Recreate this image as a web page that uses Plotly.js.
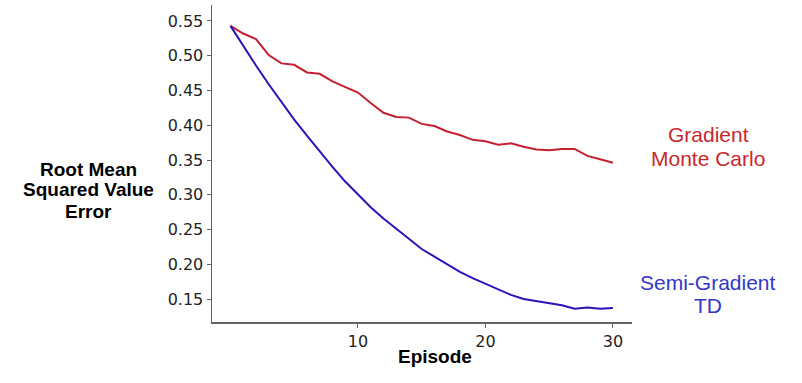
<!DOCTYPE html>
<html>
<head>
<meta charset="utf-8">
<script src="https://cdn.plot.ly/plotly-3.0.1.min.js"></script>
<style>html,body{margin:0;padding:0;background:#fff;}#chart{width:802px;height:383px;}</style>
</head>
<body>
<div id="chart"></div>
<script>
const episodes = [0,1,2,3,4,5,6,7,8,9,10,11,12,13,14,15,16,17,18,19,20,21,22,23,24,25,26,27,28,29,30];
const gradientMC = [0.543,0.532,0.524,0.501,0.489,0.487,0.476,0.474,0.463,0.455,0.447,0.432,0.418,0.412,0.411,0.402,0.399,0.391,0.386,0.379,0.377,0.372,0.374,0.369,0.365,0.364,0.366,0.366,0.356,0.351,0.346];
const semiGradientTD = [0.543,0.514,0.486,0.459,0.433,0.408,0.385,0.362,0.340,0.319,0.300,0.282,0.266,0.251,0.236,0.222,0.211,0.200,0.189,0.180,0.172,0.165,0.156,0.150,0.147,0.144,0.141,0.136,0.138,0.136,0.137];
const yTicks = [0.15,0.20,0.25,0.30,0.35,0.40,0.45,0.50,0.55];
const xTicks = [10,20,30];
const yTitleLines = ['Root Mean', 'Squared Value', 'Error'];
const mcLines = ['Gradient', 'Monte Carlo'];
const tdLines = ['Semi-Gradient', 'TD'];

const font = "Liberation Sans, Arial, Helvetica, sans-serif";
const tickFont = "'DejaVu Sans', sans-serif";
const W = 802, H = 383, L = 212, R = 170, T = 5, B = 61;
const pw = W - L - R, ph = H - T - B;
const px = x => (x - L) / pw;
const py = y => (H - B - y) / ph;

const traces = [
  {x: episodes, y: gradientMC, mode: 'lines', line: {color: 'rgb(196,32,48)', width: 2}, name: 'Gradient Monte Carlo'},
  {x: episodes, y: semiGradientTD, mode: 'lines', line: {color: 'rgb(40,20,185)', width: 2}, name: 'Semi-Gradient TD'}
];
const axisCommon = {showline: true, linecolor: '#666', linewidth: 1.5, ticks: 'outside', ticklen: 4, tickcolor: '#666', showgrid: false, zeroline: false, tickfont: {family: tickFont, size: 16, color: '#222'}};

const annotations = [];
yTitleLines.forEach((t, i) => annotations.push({xref: 'paper', yref: 'paper', x: px(88), y: py(169 + 21 * i), text: '<b>' + t + '</b>', showarrow: false, font: {family: font, size: 19, color: '#000'}, xanchor: 'center', yanchor: 'middle'}));
annotations.push({xref: 'paper', yref: 'paper', x: px(435), y: py(356), text: '<b>Episode</b>', showarrow: false, font: {family: font, size: 19, color: '#000'}, xanchor: 'center', yanchor: 'middle'});
mcLines.forEach((t, i) => annotations.push({xref: 'paper', yref: 'paper', x: px(708), y: py(134 + 24 * i), text: t, showarrow: false, font: {family: font, size: 21, color: 'rgb(200,40,45)'}, xanchor: 'center', yanchor: 'middle'}));
tdLines.forEach((t, i) => annotations.push({xref: 'paper', yref: 'paper', x: px(708), y: py(282 + 23 * i), text: t, showarrow: false, font: {family: font, size: 21, color: 'rgb(50,55,200)'}, xanchor: 'center', yanchor: 'middle'}));

const layout = {
  width: W, height: H,
  margin: {l: L, r: R, t: T, b: B},
  paper_bgcolor: '#fff', plot_bgcolor: '#fff',
  showlegend: false,
  xaxis: Object.assign({}, axisCommon, {range: [-1.45, 31.5], tickvals: xTicks, ticktext: xTicks.map(String)}),
  yaxis: Object.assign({}, axisCommon, {range: [0.117, 0.573], tickvals: yTicks, ticktext: yTicks.map(v => v.toFixed(2))}),
  annotations: annotations
};
Plotly.newPlot('chart', traces, layout, {displayModeBar: false, staticPlot: true});
</script>
</body>
</html>
